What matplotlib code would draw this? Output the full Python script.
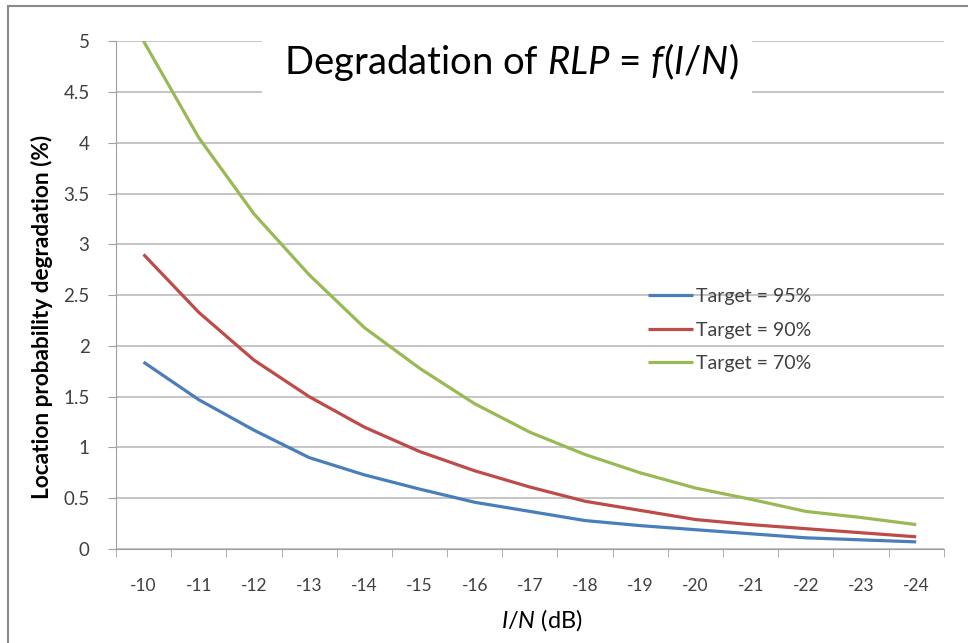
import matplotlib.pyplot as plt
from matplotlib.patches import Rectangle

plt.rcParams['font.family'] = ['Lato', 'DejaVu Sans']
plt.rcParams['mathtext.fontset'] = 'custom'
plt.rcParams['mathtext.rm'] = 'Lato'
plt.rcParams['mathtext.it'] = 'Lato:italic'

categorias = ["-10", "-11", "-12", "-13", "-14", "-15", "-16", "-17",
              "-18", "-19", "-20", "-21", "-22", "-23", "-24"]
alvo95 = [1.84, 1.47, 1.17, 0.90, 0.73, 0.59, 0.46, 0.37, 0.28, 0.23, 0.19, 0.15, 0.11, 0.09, 0.07]
alvo90 = [2.90, 2.33, 1.86, 1.50, 1.20, 0.96, 0.77, 0.61, 0.47, 0.38, 0.29, 0.24, 0.20, 0.16, 0.12]
alvo70 = [5.00, 4.05, 3.30, 2.70, 2.18, 1.78, 1.43, 1.15, 0.93, 0.75, 0.60, 0.49, 0.37, 0.31, 0.24]
yticks = [0, 0.5, 1, 1.5, 2, 2.5, 3, 3.5, 4, 4.5, 5]
ytick_labels = ["0", "0.5", "1", "1.5", "2", "2.5", "3", "3.5", "4", "4.5", "5"]

fig = plt.figure(figsize=(9.68, 6.43), dpi=100)
ax = fig.add_axes([0.1198, 0.1462, 0.8552, 0.7898])

x = list(range(len(categorias)))
ax.plot(x, alvo95, color="#4a7ebb", lw=2.3, label="Target = 95%", solid_capstyle="butt")
ax.plot(x, alvo90, color="#be4b48", lw=2.3, label="Target = 90%", solid_capstyle="butt")
ax.plot(x, alvo70, color="#98b954", lw=2.3, label="Target = 70%", solid_capstyle="butt")

ax.set_xlim(-0.5, len(categorias) - 0.5)
ax.set_ylim(0, 5)
ax.set_xticks(x)
ax.set_xticklabels(categorias)
ax.set_xticks([i - 0.5 for i in range(len(categorias) + 1)], minor=True)
ax.set_yticks(yticks)
ax.set_yticklabels(ytick_labels)

ax.tick_params(axis="x", which="major", length=0, pad=21, labelsize=12.5, labelcolor="#404040")
ax.tick_params(axis="x", which="minor", length=6, direction="out", color="#a0a0a0")
ax.tick_params(axis="y", length=6, direction="out", color="#a0a0a0", pad=13,
               labelsize=13.5, labelcolor="#404040")

ax.grid(axis="y", color="#c0c0c0", lw=1.3)
ax.set_axisbelow(True)
for s in ["top", "right"]:
    ax.spines[s].set_visible(False)
ax.spines["left"].set_color("#a0a0a0")
ax.spines["bottom"].set_color("#a0a0a0")

ax.set_ylabel("Location probability degradation (%)", fontsize=16.3, fontweight="bold")
ax.yaxis.set_label_coords(-0.076, 0.456)
ax.set_xlabel(r"$I/N$ (dB)", fontsize=17)
ax.xaxis.set_label_coords(0.514, -0.115)

# caixa branca do titulo por cima das linhas de grade
ax.add_patch(Rectangle((262 / 968, 1 - 105 / 643), 490 / 968, 85 / 643,
                       transform=fig.transFigure, facecolor="white", edgecolor="none", zorder=1.5))
fig.text(511 / 968, 1 - 62 / 643, r"Degradation of $RLP$ = $f$($I/N$)",
         fontsize=27.5, ha="center", va="center", zorder=5)

ax.legend(loc="center left", bbox_to_anchor=(0.6425, 0.431), frameon=False,
          fontsize=14, handlelength=2.3, handletextpad=0.2, labelspacing=0.85,
          borderpad=0, borderaxespad=0, labelcolor="#404040")

# moldura da captura
fig.add_artist(plt.Line2D([8 / 968, 1], [1 - 6 / 643, 1 - 6 / 643], transform=fig.transFigure,
                          color="#8a8a8a", lw=1.5))
fig.add_artist(plt.Line2D([8 / 968, 8 / 968], [0, 1 - 6 / 643], transform=fig.transFigure,
                          color="#8a8a8a", lw=1.5))

plt.savefig("out.png", dpi=100)
